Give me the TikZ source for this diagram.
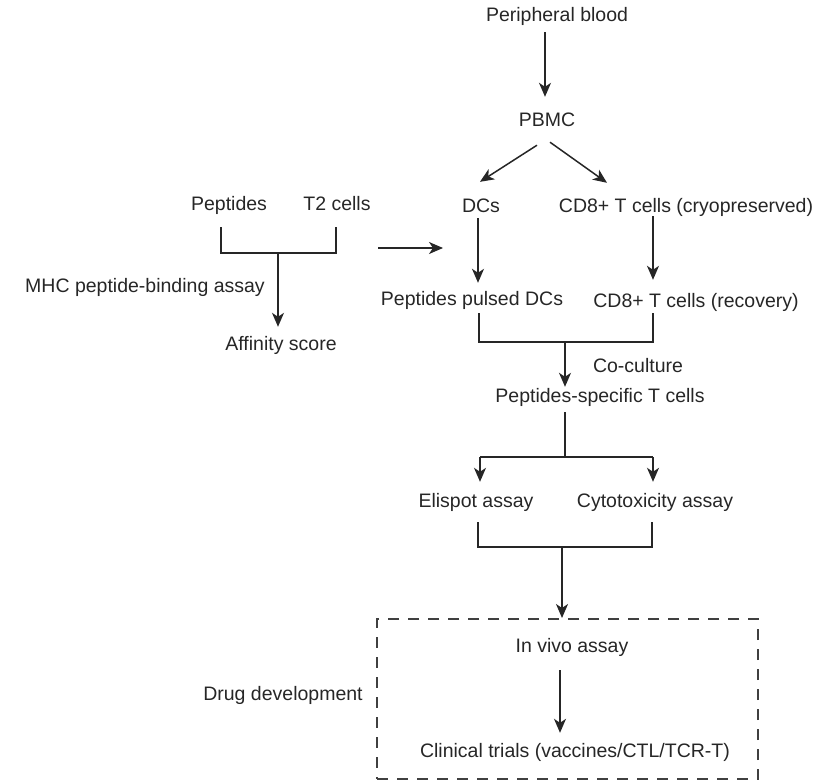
\documentclass[tikz,border=0pt]{standalone}
\usepackage{fontspec}
\setmainfont{Liberation Sans}
\usepackage{xcolor}
\usetikzlibrary{arrows.meta,positioning,calc}

\begin{document}
\begin{tikzpicture}[x=1pt,y=-1pt,
  lbl/.style={inner sep=0pt,text height=14pt,text depth=4pt,
              font=\fontsize{19.5}{22}\selectfont,text=black!85},
  link/.style={draw=black!85,line width=1.5pt},
  dashbox/.style={draw=black!75,line width=2pt,dash pattern=on 11pt off 9pt,
                  minimum width=381pt,minimum height=160pt,inner sep=0pt},
  >={Stealth[length=14pt,width=12pt,inset=4pt]}]
\useasboundingbox (0,0) rectangle (832,781);
% main column
\node[lbl] (blood) at (557,17) {Peripheral blood};
\node[lbl] (pbmc) at (547,122) {PBMC};
\node[lbl] (dcs) at (481,207) {DCs};
\node[lbl] (cdcryo) at (686,207) {CD8+ T cells (cryopreserved)};
\node[lbl] (pulsed) at (472,300) {Peptides pulsed DCs};
\node[lbl] (cdrec) at (696,302) {CD8+ T cells (recovery)};
\node[lbl] (cocult) at (638,367) {Co-culture};
\node[lbl] (specific) at (600,397) {Peptides-specific T cells};
\node[lbl] (elispot) at (476,502) {Elispot assay};
\node[lbl] (cyto) at (655,502) {Cytotoxicity assay};
\node[dashbox] (vivobox) at (567.5,699) {};
\node[lbl] (invivo) at (572,647) {In vivo assay};
\node[lbl] (clinical) at (575,752) {Clinical trials (vaccines/CTL/TCR-T)};
\node[lbl] (drug) at (283,695) {Drug development};
% binding assay
\node[lbl] (peptides) at (229,205) {Peptides};
\node[lbl] (ttwo) at (337,205) {T2 cells};
\node[lbl] (mhc) at (145,287) {MHC peptide-binding assay};
\node[lbl] (affinity) at (281,345) {Affinity score};

\coordinate (pl) at (221,253); \coordinate (pr) at (336,253); \coordinate (pm) at (278,253);
\coordinate (feedA) at (378,248); \coordinate (feedB) at (443,248);
\coordinate (jl) at (479,342); \coordinate (jr) at (653,342); \coordinate (jm) at (565,342);
\coordinate (sl) at (480,457); \coordinate (sr) at (653,457); \coordinate (sm) at (565,457);
\coordinate (el) at (478,547); \coordinate (er) at (652,547); \coordinate (em) at (562,547);

\draw[link,->,shorten <=6pt,shorten >=16pt] ([xshift=-2pt]blood.south -| pbmc.north) -- ([xshift=-2pt]pbmc.north);
\draw[link,->] ([xshift=-10pt,yshift=-14pt]pbmc.south) -- ([xshift=-1pt,yshift=16pt]dcs.north);
\draw[link,->] ([xshift=3pt,yshift=-11pt]pbmc.south) -- ([xshift=-79pt,yshift=15pt]cdcryo.north);
\draw[link,->,shorten <=2pt,shorten >=8pt] ([xshift=-3pt]dcs.south) -- ([xshift=-3pt]dcs.south |- pulsed.north);
\draw[link,->,shorten >=13pt] ([xshift=-33pt]cdcryo.south) -- ([xshift=-33pt]cdcryo.south |- cdrec.north);
\draw[link,line width=2pt,shorten <=4pt,shorten >=2pt] (jl |- pulsed.south) -- (jl) -- (jr) -- (jr |- cdrec.south);
\draw[link,->,shorten >=1pt] (jm) -- (jm |- specific.north);
\draw[link,shorten <=6pt] (sm |- specific.south) -- (sm);
\draw[link] (sl) -- (sr);
\draw[link,->,shorten >=11pt] (sl) -- (sl |- elispot.north);
\draw[link,->,shorten >=11pt] (sr) -- (sr |- cyto.north);
\draw[link,shorten <=11pt,shorten >=11pt] (el |- elispot.south) -- (el) -- (er) -- (er |- cyto.south);
\draw[link,->] (em) -- (em |- vivobox.north);
\draw[link,->,shorten <=14pt,shorten >=10pt] ([xshift=-12pt]invivo.south) -- ([xshift=-12pt]invivo.south |- clinical.north);
\draw[link,shorten <=13pt,shorten >=13pt] (pl |- peptides.south) -- (pl) -- (pr) -- (pr |- ttwo.south);
\draw[link,->,shorten >=9pt] (pm) -- (pm |- affinity.north);
\draw[link,->] (feedA) -- (feedB);
\end{tikzpicture}
\end{document}
